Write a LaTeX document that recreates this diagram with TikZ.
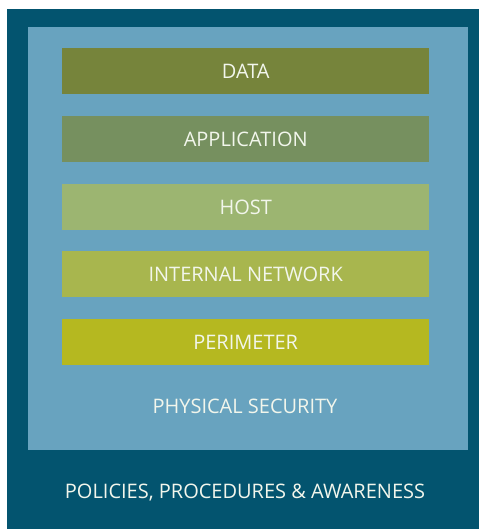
\documentclass[tikz,border=0pt]{standalone}
\usepackage{fontspec}
\setmainfont{Open Sans}
\definecolor{darkblue}{HTML}{03546F}
\definecolor{lightblue}{HTML}{68A3BF}
\definecolor{cdata}{HTML}{76843B}
\definecolor{capp}{HTML}{76905F}
\definecolor{chost}{HTML}{9CB571}
\definecolor{cnet}{HTML}{A8B64E}
\definecolor{cper}{HTML}{B5B820}
\definecolor{txt}{HTML}{F2F6EC}
\begin{document}
\begin{tikzpicture}[x=1pt,y=-1pt,
  layer/.style={fill=#1, draw=none, minimum width=367pt, minimum height=46pt, inner sep=0pt, anchor=north west,
    text=txt, font=\fontsize{20}{24}\selectfont},
  label/.style={text=txt, inner sep=0pt, font=\fontsize{20}{24}\selectfont}]
\useasboundingbox (0,0) rectangle (479,529);
\fill[white] (0,0) rectangle (479,529);
\node[fill=darkblue, draw=none, minimum width=472pt, minimum height=520pt, inner sep=0pt, anchor=north west] (outer) at (7,9) {};
\node[fill=lightblue, draw=none, minimum width=440pt, minimum height=423pt, inner sep=0pt, anchor=north west] (inner) at (28,27) {};
\node[layer=cdata] (data) at (62,48) {DATA};
\node[layer=capp] (app) at (62,116) {APPLICATION};
\node[layer=chost] (host) at (62,184) {HOST};
\node[layer=cnet] (net) at (62,251) {INTERNAL NETWORK};
\node[layer=cper] (per) at (62,319) {PERIMETER};
\node[label] (phys) at (245,406) {PHYSICAL SECURITY};
\node[label] (pol) at (245,493) {POLICIES, PROCEDURES \& AWARENESS};
\end{tikzpicture}
\end{document}
